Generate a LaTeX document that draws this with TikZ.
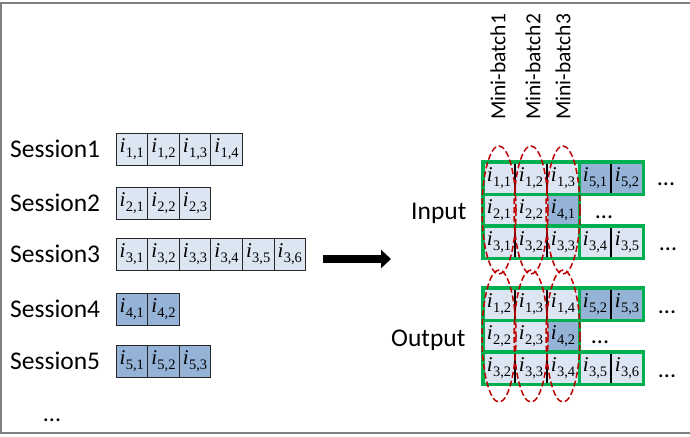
\documentclass[tikz,border=0pt]{standalone}
\usepackage{fontspec}
\setmainfont{Carlito}
\newfontfamily\cellfont{Liberation Serif}
\newcommand\ii[2]{{\cellfont\fontsize{21}{23}\selectfont\itshape i\kern0.3pt\raisebox{-4.5pt}{\fontsize{14.5}{16}\selectfont\upshape #1,#2}}}
\usetikzlibrary{arrows.meta}
\definecolor{lightc}{HTML}{DCE6F2}
\definecolor{darkc}{HTML}{95B3D7}
\definecolor{grn}{HTML}{00B050}
\definecolor{rd}{HTML}{C00000}
\definecolor{frm}{HTML}{808080}
\begin{document}
\begin{tikzpicture}[x=1pt,y=-1pt,
 lbl/.style={font=\fontsize{25.5}{28}\selectfont, inner sep=0},
 cellL/.style={draw=black!85, line width=0.8pt, minimum width=31.6pt, minimum height=32pt, inner sep=0},
 cellR/.style={draw=black!25, line width=0.5pt, minimum width=32pt, minimum height=32pt, inner sep=0},
 lt/.style={fill=lightc}, dk/.style={fill=darkc},
 grnbox/.style={draw=grn, line width=3.5pt},
 sepline/.style={draw=black, line width=1.8pt},
 batch/.style={draw=rd, line width=1.5pt, dash pattern=on 6pt off 3pt},
 mb/.style={font=\fontsize{21.5}{24}\selectfont, rotate=90, anchor=west, inner sep=0},
 dots/.style={font=\fontsize{24}{28}\selectfont, inner sep=0, anchor=base}
]
\useasboundingbox (0,0) rectangle (690,436);
\draw[frm, line width=2pt] (692,3.5) -- (1,3.5) -- (1,433) -- (692,433);

% left sessions
\foreach \s/\y/\n/\st in {1/149/4/lt,2/203/3/lt,3/254/6/lt,4/309/2/dk,5/361/3/dk} {
  \node[lbl, anchor=base west] (s\s) at (10,\y+8) {Session\s};
  \foreach \k in {1,...,\n} {
    \node[cellL, \st] (c\s\k) at ({116+31.6*(\k-0.5)},\y) {\ii{\s}{\k}};
  }
}
\node[dots] (ldots) at (52,421) {...};

% arrow
\coordinate (a1) at (323,259);
\coordinate (a2) at (391,259);
\draw[line width=8pt, -{Triangle[length=10pt,width=18pt]}] (a1) -- (a2);

% mini-batch labels
\node[mb] (mb1) at (498,120) {Mini-batch1};
\node[mb] (mb2) at (533,120) {Mini-batch2};
\node[mb] (mb3) at (563,120) {Mini-batch3};

% Input block
\node[lbl, anchor=base west] (inlbl) at (411,219) {Input};
\foreach \r/\list in {1/{1/1/1/lt,1/2/2/lt,1/3/3/lt,5/1/4/dk,5/2/5/dk},2/{2/1/1/lt,2/2/2/lt,4/1/3/dk},3/{3/1/1/lt,3/2/2/lt,3/3/3/lt,3/4/4/lt,3/5/5/lt}} {
  \foreach \a/\b/\c/\st in \list {
    \node[cellR, \st] (in-\r-\c) at ({483+32*(\c-0.5)},{162+32*(\r-0.5)}) {\ii{\a}{\b}};
  }
}
\foreach \c in {1,2,4} \draw[sepline] (in-1-\c.north east) -- (in-1-\c.south east);
\foreach \c in {1,2,3,4} \draw[sepline] (in-3-\c.north east) -- (in-3-\c.south east);
\draw[grnbox] (in-1-1.north west) rectangle (in-1-5.south east);
\draw[grnbox] (in-3-1.north west) rectangle (in-3-5.south east);
\draw[grnbox] (in-1-1.north west) rectangle (in-3-3.south east);
\node[dots] (id1) at (666,185) {...};
\node[dots] (id2) at (604,218) {...};
\node[dots] (id3) at (668,250) {...};

% Output block
\node[lbl, anchor=base west] (outlbl) at (391,346) {Output};
\foreach \r/\list in {1/{1/2/1/lt,1/3/2/lt,1/4/3/lt,5/2/4/dk,5/3/5/dk},2/{2/2/1/lt,2/3/2/lt,4/2/3/dk},3/{3/2/1/lt,3/3/2/lt,3/4/3/lt,3/5/4/lt,3/6/5/lt}} {
  \foreach \a/\b/\c/\st in \list {
    \node[cellR, \st] (out-\r-\c) at ({483+32*(\c-0.5)},{288+32*(\r-0.5)}) {\ii{\a}{\b}};
  }
}
\foreach \c in {1,2,4} \draw[sepline] (out-1-\c.north east) -- (out-1-\c.south east);
\foreach \c in {1,2,3,4} \draw[sepline] (out-3-\c.north east) -- (out-3-\c.south east);
\draw[grnbox] (out-1-1.north west) rectangle (out-1-5.south east);
\draw[grnbox] (out-3-1.north west) rectangle (out-3-5.south east);
\draw[grnbox] (out-1-1.north west) rectangle (out-3-3.south east);
\node[dots] (od1) at (667,313) {...};
\node[dots] (od2) at (600,343) {...};
\node[dots] (od3) at (667,377) {...};

% mini-batch ellipses
\foreach \c in {1,2,3} {
  \draw[batch] (in-2-\c.center) ellipse [x radius=17, y radius=64];
  \draw[batch] (out-2-\c.center) ellipse [x radius=17, y radius=66];
}
\end{tikzpicture}
\end{document}
